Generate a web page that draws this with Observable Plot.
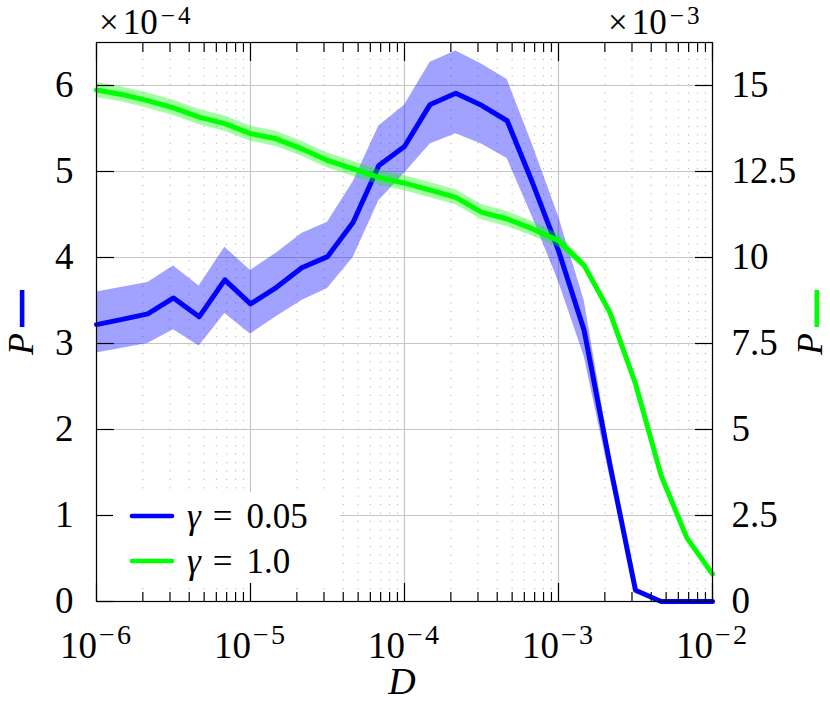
<!DOCTYPE html>
<html>
<head>
<meta charset="utf-8">
<script src="https://cdn.jsdelivr.net/npm/d3@7"></script>
<script src="https://cdn.jsdelivr.net/npm/@observablehq/plot@0.6"></script>
<style>
  html, body { margin: 0; padding: 0; background: white; }
  #chart { width: 830px; height: 703px; }
</style>
</head>
<body>
<div id="chart"></div>
<script>
// ---------------- data ----------------
const D = [1e-6, 1.468e-6, 2.154e-6, 3.162e-6, 4.642e-6, 6.813e-6,
           1e-5, 1.468e-5, 2.154e-5, 3.162e-5, 4.642e-5, 6.813e-5,
           1e-4, 1.468e-4, 2.154e-4, 3.162e-4, 4.642e-4, 6.813e-4,
           1e-3, 1.468e-3, 2.154e-3, 3.162e-3, 4.642e-3, 6.813e-3, 1e-2];
// gamma = 0.05, left axis, units of 1e-4
const blueMean = [3.22, 3.28, 3.345, 3.53, 3.31, 3.74, 3.46, 3.65, 3.88, 4.01, 4.41, 5.07,
                  5.29, 5.78, 5.91, 5.77, 5.59, 4.86, 4.08, 3.15, 1.6, 0.13, 0, 0, 0];
const blueHigh = [3.60, 3.655, 3.71, 3.90, 3.67, 4.12, 3.85, 4.05, 4.28, 4.41, 4.88, 5.53,
                  5.77, 6.27, 6.40, 6.25, 6.07, 5.30, 4.48, 3.50, 1.75, 0.13, 0, 0, 0];
const blueLow  = [2.89, 2.945, 3.0, 3.16, 2.97, 3.35, 3.11, 3.31, 3.50, 3.64, 4.0, 4.66,
                  4.98, 5.32, 5.44, 5.32, 5.15, 4.46, 3.72, 2.85, 1.45, 0.13, 0, 0, 0];
// gamma = 1.0, right axis, units of 1e-3
const greenMean = [14.87, 14.74, 14.56, 14.35, 14.08, 13.89, 13.6, 13.45, 13.16, 12.82, 12.58, 12.33,
                   12.16, 11.96, 11.75, 11.32, 11.12, 10.83, 10.49, 9.77, 8.41, 6.33, 3.66, 1.85, 0.80];
const greenErr  = [0.22, 0.22, 0.22, 0.22, 0.22, 0.22, 0.22, 0.22, 0.22, 0.22, 0.22, 0.22,
                   0.22, 0.22, 0.22, 0.22, 0.22, 0.21, 0.19, 0.12, 0.03, 0, 0, 0, 0];

const leftTicks = [0, 1, 2, 3, 4, 5, 6];
const rightTicks = [0, 2.5, 5, 7.5, 10, 12.5, 15];
const xMajor = [1e-6, 1e-5, 1e-4, 1e-3, 1e-2];
const xMajorExp = ["\u22126", "\u22125", "\u22124", "\u22123", "\u22122"];
const xMinor = [2e-6,3e-6,4e-6,5e-6,6e-6,7e-6,8e-6,9e-6,
                2e-5,3e-5,4e-5,5e-5,6e-5,7e-5,8e-5,9e-5,
                2e-4,3e-4,4e-4,5e-4,6e-4,7e-4,8e-4,9e-4,
                2e-3,3e-3,4e-3,5e-3,6e-3,7e-3,8e-3,9e-3];
const legendLabels = ["0.05", "1.0"];
const leftMax = 6.5, rightMax = 16.25;
const R = rightMax / leftMax; // right units per left unit

const rows = D.map((d, i) => ({
  D: d, b: blueMean[i], bl: blueLow[i], bh: blueHigh[i],
  g: greenMean[i], ge: greenErr[i]
}));

// ---------------- plot ----------------
const FONT = "Liberation Serif, DejaVu Serif, serif";
const FS = 37;
const BLUE = "#0000ff", GREEN = "#00ff00";
const GRID = "#c6c6c6";

const svgEl = Plot.plot({
  width: 830, height: 703,
  marginLeft: 96, marginRight: 118, marginTop: 42, marginBottom: 102,
  style: {fontFamily: FONT, fontSize: FS + "px", background: "white", overflow: "visible", color: "black"},
  x: {type: "log", domain: [1e-6, 1e-2], axis: null},
  y: {domain: [0, leftMax], axis: null},
  marks: [
    Plot.gridX(xMinor, {stroke: "#b4b4b4", strokeOpacity: 1, strokeWidth: 1, strokeDasharray: "1.2,7.2"}),
    Plot.gridX(xMajor, {stroke: GRID, strokeOpacity: 1, strokeWidth: 1.2}),
    Plot.gridY(leftTicks, {stroke: GRID, strokeOpacity: 1, strokeWidth: 1.2}),
    Plot.areaY(rows, {x: "D", y1: "bl", y2: "bh", fill: BLUE, fillOpacity: 0.37}),
    Plot.line(rows, {x: "D", y: "b", stroke: BLUE, strokeWidth: 5, strokeLinejoin: "round"}),
    Plot.areaY(rows, {x: "D", y1: d => (d.g - d.ge) / R, y2: d => (d.g + d.ge) / R, fill: GREEN, fillOpacity: 0.37}),
    Plot.line(rows, {x: "D", y: d => d.g / R, stroke: GREEN, strokeWidth: 5, strokeLinejoin: "round"}),
    Plot.frame({stroke: "#000", strokeWidth: 1.2}),
    // inward ticks
    Plot.axisX(xMajor, {anchor: "bottom", tickSize: -18, tickFormat: () => "", label: null, strokeWidth: 1.2}),
    Plot.axisX(xMajor, {anchor: "top", tickSize: -18, tickFormat: () => "", label: null, strokeWidth: 1.2}),
    Plot.axisX(xMinor, {anchor: "bottom", tickSize: -9, tickFormat: () => "", label: null, strokeWidth: 1.2}),
    Plot.axisX(xMinor, {anchor: "top", tickSize: -9, tickFormat: () => "", label: null, strokeWidth: 1.2}),
    Plot.axisY(leftTicks, {anchor: "left", tickSize: -18, tickFormat: () => "", label: null, strokeWidth: 1.2}),
    Plot.axisY(rightTicks.map(r => r / R), {anchor: "right", tickSize: -18, tickFormat: () => "", label: null, strokeWidth: 1.2}),
    // tick labels
    Plot.axisX(xMajor, {anchor: "bottom", tickSize: 0, tickPadding: 30, tickFormat: () => "10", label: null, fontSize: FS}),
    Plot.axisY(leftTicks, {anchor: "left", tickSize: 0, tickPadding: 23, tickFormat: d => String(d), label: null, fontSize: FS}),
    Plot.axisY(rightTicks.map(r => r / R), {anchor: "right", tickSize: 0, tickPadding: 19,
      tickFormat: (d, i) => String(rightTicks[i]), label: null, fontSize: FS})
  ]
});

svgEl.setAttribute("font-family", FONT);
document.getElementById("chart").appendChild(svgEl);
const svg = d3.select(svgEl);

// superscript exponents on the x tick labels
let k = 0;
svg.selectAll("text").each(function () {
  const t = d3.select(this);
  if (t.text() === "10" && k < xMajorExp.length) {
    t.append("tspan").attr("dx", 2).attr("dy", "-0.48em").attr("font-size", "0.76em")
      .attr("letter-spacing", 2).text(xMajorExp[k]);
    k++;
  }
});

// helper for "×10^e" multipliers
function multiplier(x, y, exp) {
  const t = svg.append("text").attr("x", x).attr("y", y).attr("text-anchor", "start")
    .attr("font-family", FONT).attr("font-size", 35).attr("fill", "black");
  t.append("tspan").text("\u00d7");
  t.append("tspan").attr("dx", 4).text("10");
  t.append("tspan").attr("dx", 3).attr("dy", "-0.4em").attr("font-size", "0.72em")
    .attr("letter-spacing", 3).text("\u2212" + exp);
}
multiplier(99, 34, "4");
multiplier(608, 34, "3");

// axis labels
svg.append("text").attr("transform", "translate(32.5,355) rotate(-90)").attr("text-anchor", "start")
  .attr("font-family", FONT).attr("font-size", 36).attr("font-style", "italic").text("P");
svg.append("rect").attr("x", 19.8).attr("y", 290).attr("width", 4.6).attr("height", 37).attr("fill", BLUE);
svg.append("text").attr("transform", "translate(822,355) rotate(-90)").attr("text-anchor", "start")
  .attr("font-family", FONT).attr("font-size", 36).attr("font-style", "italic").text("P");
svg.append("rect").attr("x", 814.5).attr("y", 290).attr("width", 4.6).attr("height", 37).attr("fill", GREEN);

svg.append("text").attr("x", 402).attr("y", 694).attr("text-anchor", "middle")
  .attr("font-family", FONT).attr("font-size", 38).attr("font-style", "italic").text("D");

// legend
const lg = svg.append("g");
lg.append("rect").attr("x", 113).attr("y", 492).attr("width", 227).attr("height", 91).attr("fill", "white");
[[BLUE, 516, legendLabels[0]], [GREEN, 561, legendLabels[1]]].forEach(([c, y, lab]) => {
  lg.append("line").attr("x1", 132).attr("x2", 172).attr("y1", y).attr("y2", y)
    .attr("stroke", c).attr("stroke-width", 4.6).attr("stroke-linecap", "round");
  const t = lg.append("text").attr("x", 187).attr("y", y + 12).attr("text-anchor", "start")
    .attr("font-family", FONT).attr("font-size", 35).attr("fill", "black");
  t.append("tspan").attr("font-style", "italic").text("\u03b3");
  t.append("tspan").attr("dx", 12).text("=");
  t.append("tspan").attr("dx", 14).text(lab);
});
</script>
</body>
</html>
